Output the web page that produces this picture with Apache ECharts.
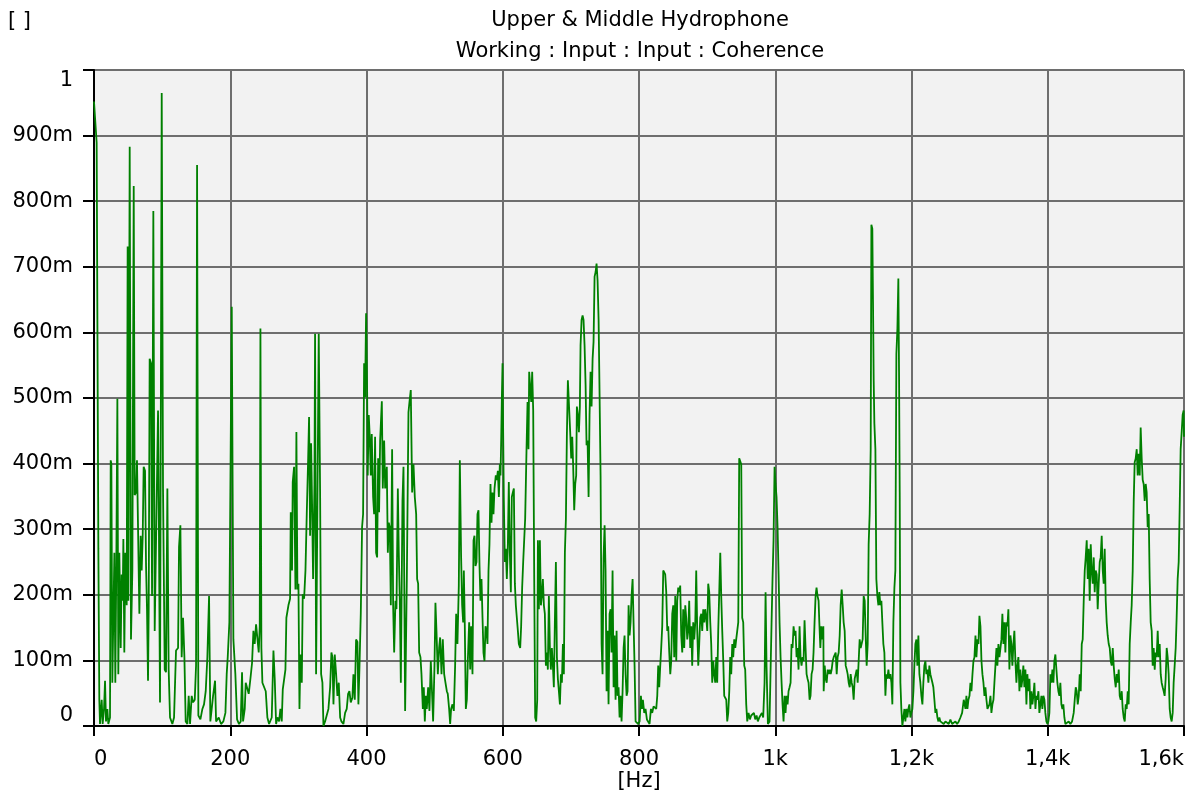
<!DOCTYPE html>
<html>
<head>
<meta charset="utf-8">
<title>Upper & Middle Hydrophone - Coherence</title>
<script src="https://cdn.jsdelivr.net/npm/echarts@6/dist/echarts.min.js"></script>
<style>
html,body{margin:0;padding:0;background:#fff;}
#chart{width:1196px;height:798px;}
</style>
</head>
<body>
<div id="chart"></div>
<script>
// ---- data: [frequency Hz, coherence] ----
const band0to260 = [[0,0.952],[3.9,0.889],[6.4,0.270],[7.8,0.040],[8.8,0.003],[11.3,0.040],[12.7,0.003],[14.7,0.026],[16.2,0.069],[17.6,0.007],[19.6,0.026],[21.0,0.003],[23.5,0.013],[24.5,0.405],[25.5,0.400],[26.9,0.066],[28.4,0.066],[29.9,0.264],[31.3,0.066],[32.8,0.250],[34.3,0.499],[35.7,0.079],[37.2,0.264],[39.2,0.119],[40.6,0.231],[42.1,0.191],[43.1,0.285],[44.5,0.112],[46.0,0.264],[47.0,0.231],[48.0,0.184],[49.4,0.731],[50.4,0.191],[52.4,0.883],[54.3,0.132],[56.3,0.237],[58.3,0.823],[59.7,0.352],[61.7,0.356],[63.1,0.405],[65.1,0.405],[66.6,0.171],[68.5,0.290],[70.0,0.237],[71.5,0.290],[72.9,0.395],[74.9,0.389],[76.4,0.244],[77.8,0.178],[79.3,0.069],[80.3,0.178],[81.7,0.560],[83.7,0.553],[85.2,0.198],[87.1,0.785],[89.1,0.145],[91.5,0.145],[94.0,0.481],[95.0,0.349],[96.9,0.036],[99.4,0.965],[101.3,0.362],[103.8,0.086],[105.7,0.082],[107.7,0.362],[109.6,0.086],[111.6,0.013],[115.0,0.003],[117.5,0.013],[120.4,0.115],[123.4,0.119],[124.8,0.273],[126.8,0.306],[128.7,0.105],[130.7,0.165],[132.7,0.105],[134.6,0.007],[137.1,0.003],[139.0,0.046],[141.0,0.003],[143.4,0.046],[145.4,0.036],[147.9,0.040],[149.8,0.092],[151.3,0.855],[153.2,0.016],[156.2,0.010],[159.1,0.026],[161.5,0.033],[164.0,0.053],[166.4,0.105],[168.9,0.198],[170.8,0.007],[172.8,0.026],[174.8,0.046],[177.7,0.069],[179.2,0.007],[183.1,0.013],[186.5,0.003],[189.9,0.007],[192.9,0.020],[194.8,0.079],[196.3,0.105],[198.7,0.158],[202.2,0.639],[204.6,0.132],[207.5,0.079],[210.0,0.010],[212.9,0.003],[215.4,0.007],[217.3,0.082],[218.8,0.007],[221.3,0.026],[222.7,0.066],[225.2,0.066],[227.1,0.049],[229.6,0.072],[232.0,0.096],[234.0,0.145],[235.9,0.125],[237.9,0.155],[240.8,0.158],[241.8,0.112],[243.3,0.152],[244.3,0.606],[245.7,0.119],[247.2,0.066],[249.6,0.066],[252.1,0.053],[254.5,0.013],[257.0,0.003]];

const band260to540 = [[260.9,0.013],[263.4,0.115],[265.3,0.072],[267.3,0.003],[269.2,0.013],[271.7,0.007],[273.6,0.026],[275.6,0.007],[277.1,0.056],[279.0,0.059],[281.0,0.086],[282.4,0.165],[285.4,0.184],[287.8,0.194],[288.8,0.326],[290.7,0.237],[291.7,0.372],[293.7,0.395],[295.7,0.208],[297.1,0.448],[298.6,0.208],[300.1,0.217],[301.6,0.026],[303.0,0.109],[305.0,0.066],[306.4,0.201],[308.4,0.194],[310.4,0.237],[312.3,0.323],[314.3,0.405],[315.7,0.471],[317.2,0.290],[318.7,0.431],[320.1,0.339],[321.6,0.224],[323.6,0.369],[324.5,0.598],[326.0,0.079],[328.0,0.079],[329.9,0.598],[331.9,0.356],[333.4,0.079],[335.3,0.066],[336.8,0.000],[339.2,0.007],[341.7,0.010],[344.1,0.026],[346.6,0.059],[348.5,0.112],[350.0,0.105],[351.5,0.033],[353.4,0.109],[355.4,0.079],[357.3,0.046],[359.3,0.066],[361.3,0.013],[363.2,0.007],[366.1,0.003],[368.6,0.020],[371.0,0.026],[373.0,0.049],[374.9,0.053],[376.9,0.036],[379.3,0.043],[380.8,0.079],[382.8,0.040],[384.7,0.132],[386.7,0.128],[388.1,0.033],[389.6,0.086],[391.6,0.171],[393.5,0.303],[395.0,0.323],[396.5,0.553],[397.9,0.501],[399.4,0.629],[400.9,0.514],[401.8,0.382],[403.3,0.474],[404.8,0.441],[406.3,0.382],[407.7,0.445],[409.7,0.349],[411.2,0.323],[412.6,0.441],[414.1,0.264],[415.6,0.257],[417.1,0.408],[418.5,0.326],[420.0,0.435],[422.5,0.495],[423.9,0.362],[425.9,0.435],[427.4,0.362],[429.8,0.395],[431.3,0.264],[432.7,0.310],[434.2,0.303],[435.7,0.184],[437.6,0.422],[439.1,0.184],[440.6,0.112],[442.5,0.191],[444.0,0.178],[446.0,0.362],[447.4,0.264],[448.9,0.191],[450.4,0.066],[452.8,0.343],[454.3,0.395],[456.7,0.023],[459.2,0.224],[461.6,0.478],[463.1,0.494],[465.0,0.512],[467.0,0.356],[469.0,0.399],[470.9,0.349],[472.9,0.323],[474.3,0.224],[475.8,0.217],[477.3,0.112],[479.2,0.105],[480.7,0.079],[482.7,0.026],[484.1,0.059],[485.6,0.007],[487.1,0.046],[488.5,0.026],[490.5,0.059],[492.4,0.023],[494.4,0.099],[496.4,0.102],[497.8,0.007],[499.8,0.092],[501.2,0.188],[502.7,0.145],[504.7,0.079],[506.6,0.119],[508.1,0.135],[510.1,0.079],[512.0,0.132],[514.0,0.079],[515.9,0.066],[517.9,0.053],[519.3,0.049],[521.3,0.026],[522.8,0.003],[524.2,0.026],[526.2,0.033],[528.2,0.023],[530.1,0.092],[531.6,0.171],[533.5,0.125],[535.5,0.214],[537.0,0.405]];

const band540to800 = [[538.9,0.257],[540.4,0.184],[541.9,0.158],[542.9,0.237],[544.3,0.152],[545.8,0.026],[547.3,0.040],[548.7,0.099],[550.7,0.158],[552.2,0.086],[553.6,0.152],[555.6,0.079],[557.1,0.283],[558.5,0.290],[560.0,0.244],[561.5,0.250],[562.9,0.323],[564.4,0.329],[565.9,0.244],[567.3,0.191],[568.8,0.224],[570.3,0.165],[571.7,0.112],[573.2,0.099],[574.7,0.152],[576.1,0.145],[577.6,0.125],[579.1,0.237],[580.5,0.277],[582.0,0.369],[583.5,0.310],[584.9,0.356],[586.4,0.323],[587.9,0.362],[589.8,0.382],[591.3,0.375],[592.8,0.389],[594.3,0.349],[595.7,0.399],[596.7,0.382],[597.7,0.435],[598.7,0.501],[599.7,0.553],[600.6,0.448],[601.6,0.343],[603.1,0.250],[604.5,0.270],[606.0,0.224],[607.5,0.277],[608.9,0.372],[610.4,0.264],[611.9,0.204],[613.3,0.349],[614.8,0.356],[616.3,0.362],[617.8,0.217],[619.2,0.184],[620.7,0.184],[622.2,0.145],[623.6,0.125],[625.6,0.119],[627.0,0.152],[628.5,0.211],[630.0,0.250],[631.5,0.250],[632.9,0.316],[634.9,0.422],[636.4,0.494],[637.8,0.422],[638.8,0.540],[640.3,0.540],[641.8,0.494],[643.2,0.540],[644.7,0.481],[646.2,0.224],[647.6,0.013],[649.1,0.007],[650.6,0.040],[651.6,0.283],[653.0,0.178],[654.5,0.283],[656.0,0.184],[657.4,0.198],[658.9,0.224],[660.4,0.184],[661.8,0.171],[663.3,0.092],[664.8,0.112],[666.2,0.086],[667.7,0.198],[669.2,0.119],[670.6,0.086],[672.1,0.119],[673.6,0.092],[675.0,0.059],[676.5,0.158],[678.0,0.250],[679.5,0.105],[680.9,0.072],[682.4,0.053],[683.9,0.033],[685.3,0.079],[686.8,0.066],[688.3,0.125],[689.7,0.079],[691.2,0.264],[692.7,0.316],[694.1,0.441],[695.6,0.527],[697.6,0.527],[699.0,0.448],[700.5,0.408],[702.0,0.441],[703.4,0.395],[704.9,0.329],[706.4,0.369],[707.8,0.382],[708.8,0.487],[710.3,0.474],[711.8,0.448],[713.2,0.487],[714.2,0.580],[715.7,0.619],[717.2,0.626],[718.6,0.619],[720.1,0.580],[721.6,0.520],[723.0,0.428],[724.5,0.435],[726.0,0.349],[727.4,0.474],[728.9,0.540],[730.4,0.487],[731.9,0.560],[733.3,0.586],[734.8,0.685],[736.3,0.692],[737.7,0.705],[739.2,0.679],[740.7,0.619],[742.1,0.507],[743.6,0.382],[745.1,0.125],[746.5,0.079],[748.0,0.257],[749.5,0.306],[750.9,0.237],[752.4,0.053],[753.9,0.145],[755.3,0.033],[756.8,0.171],[758.3,0.178],[759.7,0.112],[761.2,0.237],[762.7,0.059],[764.1,0.138],[765.6,0.040],[767.1,0.145],[768.5,0.046],[770.0,0.059],[771.5,0.013],[772.9,0.046],[774.4,0.007],[775.9,0.053],[777.4,0.119],[778.8,0.138],[780.3,0.079],[781.8,0.046],[783.2,0.053],[784.7,0.184],[786.2,0.138],[787.6,0.158],[789.1,0.198],[790.6,0.224],[792.0,0.158],[793.5,0.092],[795.0,0.007]];

const band800to1065 = [[797.0,0.010],[798.9,0.003],[800.9,0.007],[802.8,0.046],[804.3,0.026],[805.7,0.040],[807.7,0.020],[809.6,0.026],[811.6,0.010],[813.6,0.007],[815.5,0.003],[817.5,0.026],[819.4,0.020],[821.4,0.030],[823.3,0.033],[825.3,0.026],[826.8,0.046],[828.2,0.092],[829.7,0.059],[831.2,0.092],[832.6,0.119],[834.1,0.152],[835.6,0.237],[837.1,0.237],[838.5,0.231],[840.0,0.204],[841.5,0.145],[842.9,0.152],[844.4,0.112],[845.9,0.079],[847.3,0.099],[848.8,0.171],[850.3,0.184],[851.7,0.105],[853.2,0.198],[854.7,0.099],[856.1,0.191],[857.6,0.211],[859.1,0.204],[860.5,0.214],[862.0,0.138],[863.5,0.112],[864.9,0.178],[866.4,0.119],[867.9,0.184],[869.3,0.165],[870.8,0.132],[872.3,0.145],[873.7,0.191],[875.2,0.119],[876.7,0.152],[878.1,0.092],[879.6,0.158],[881.1,0.132],[882.6,0.158],[884.0,0.237],[885.5,0.145],[887.0,0.092],[888.4,0.125],[889.9,0.165],[891.4,0.171],[892.8,0.145],[894.3,0.178],[895.8,0.158],[897.2,0.178],[898.7,0.165],[900.2,0.145],[901.6,0.217],[903.1,0.204],[904.6,0.158],[906.0,0.125],[907.5,0.066],[909.0,0.099],[910.4,0.079],[911.9,0.066],[913.4,0.105],[914.8,0.066],[916.3,0.145],[917.8,0.204],[919.3,0.264],[920.7,0.198],[922.2,0.145],[923.7,0.099],[925.1,0.046],[926.6,0.046],[928.1,0.040],[929.5,0.007],[931.0,0.020],[932.5,0.053],[933.9,0.105],[935.4,0.079],[936.9,0.125],[938.3,0.105],[939.8,0.132],[941.3,0.119],[942.7,0.132],[944.2,0.145],[945.7,0.158],[947.1,0.408],[948.6,0.405],[950.1,0.399],[951.5,0.165],[953.0,0.158],[954.5,0.092],[955.9,0.086],[957.4,0.033],[958.9,0.007],[960.8,0.020],[962.8,0.010],[964.7,0.016],[966.7,0.013],[968.7,0.020],[970.6,0.010],[972.6,0.016],[974.5,0.007],[976.5,0.013],[978.4,0.010],[980.4,0.020],[982.3,0.013],[984.3,0.066],[985.8,0.204],[987.2,0.092],[989.2,0.003],[991.6,0.007],[993.1,0.007],[994.6,0.158],[996.0,0.224],[997.5,0.283],[999.0,0.395],[1000.4,0.369],[1001.9,0.349],[1003.4,0.303],[1004.9,0.231],[1006.3,0.158],[1007.8,0.105],[1009.3,0.066],[1010.7,0.033],[1012.2,0.007],[1013.7,0.046],[1015.1,0.020],[1016.6,0.046],[1018.1,0.033],[1019.5,0.053],[1021.0,0.059],[1022.5,0.066],[1023.9,0.125],[1025.4,0.119],[1026.9,0.152],[1028.3,0.138],[1029.8,0.145],[1031.3,0.105],[1032.7,0.119],[1034.2,0.086],[1035.7,0.152],[1037.1,0.105],[1038.6,0.092],[1040.1,0.105],[1041.6,0.099],[1043.0,0.161],[1044.5,0.119],[1046.0,0.079],[1047.4,0.072],[1048.9,0.066],[1050.4,0.040],[1051.8,0.046],[1053.3,0.079],[1054.8,0.086],[1056.2,0.112],[1057.7,0.158],[1059.2,0.198],[1060.6,0.211],[1062.1,0.198],[1063.6,0.191]];

const band1065to1330 = [[1064.7,0.158],[1066.2,0.119],[1067.6,0.152],[1069.1,0.132],[1070.6,0.152],[1071.1,0.053],[1072.6,0.092],[1074.0,0.072],[1075.5,0.066],[1077.0,0.086],[1078.4,0.079],[1079.9,0.086],[1081.4,0.079],[1082.8,0.086],[1084.3,0.099],[1085.8,0.105],[1087.2,0.105],[1088.7,0.112],[1090.2,0.079],[1091.6,0.105],[1093.1,0.112],[1094.6,0.138],[1096.0,0.184],[1097.5,0.208],[1099.0,0.184],[1100.4,0.158],[1101.9,0.145],[1103.4,0.092],[1104.9,0.086],[1106.3,0.079],[1107.8,0.066],[1109.3,0.059],[1110.7,0.079],[1112.2,0.066],[1113.7,0.059],[1115.1,0.040],[1116.6,0.072],[1118.1,0.079],[1119.5,0.086],[1121.0,0.066],[1122.5,0.066],[1123.9,0.132],[1125.4,0.119],[1126.9,0.119],[1128.3,0.132],[1129.8,0.198],[1131.3,0.191],[1132.7,0.138],[1134.2,0.092],[1135.7,0.125],[1137.1,0.277],[1138.6,0.323],[1140.1,0.422],[1141.1,0.764],[1142.5,0.758],[1143.5,0.646],[1144.5,0.527],[1145.5,0.461],[1147.0,0.422],[1148.4,0.224],[1149.9,0.198],[1151.4,0.184],[1152.8,0.204],[1154.3,0.184],[1155.8,0.191],[1157.2,0.158],[1158.7,0.125],[1160.2,0.112],[1161.7,0.046],[1163.1,0.079],[1164.6,0.072],[1166.1,0.086],[1167.5,0.072],[1169.0,0.079],[1170.5,0.066],[1171.9,0.033],[1173.4,0.158],[1174.9,0.211],[1176.3,0.237],[1177.8,0.567],[1179.3,0.606],[1180.7,0.682],[1181.7,0.540],[1182.7,0.356],[1183.7,0.066],[1185.1,0.026],[1186.6,0.000],[1188.1,0.013],[1189.6,0.026],[1191.0,0.007],[1192.5,0.026],[1194.0,0.013],[1195.4,0.026],[1196.9,0.033],[1198.4,0.013],[1199.8,0.020],[1201.3,0.026],[1202.8,0.053],[1204.2,0.092],[1205.7,0.125],[1207.2,0.132],[1208.6,0.092],[1210.1,0.138],[1211.6,0.079],[1213.0,0.066],[1214.5,0.046],[1216.0,0.033],[1217.4,0.066],[1218.9,0.092],[1220.4,0.099],[1221.8,0.079],[1223.3,0.086],[1224.8,0.066],[1226.2,0.092],[1227.7,0.079],[1229.2,0.079],[1230.7,0.066],[1232.1,0.059],[1233.6,0.040],[1235.1,0.020],[1236.5,0.026],[1238.0,0.013],[1239.5,0.007],[1240.9,0.013],[1242.4,0.007],[1244.9,0.010],[1247.3,0.003],[1249.8,0.007],[1252.2,0.010],[1254.7,0.003],[1257.1,0.010],[1259.6,0.003],[1262.0,0.003],[1264.5,0.007],[1266.9,0.003],[1269.4,0.007],[1271.8,0.013],[1274.3,0.020],[1276.7,0.040],[1279.2,0.026],[1280.6,0.046],[1282.1,0.026],[1283.6,0.040],[1285.1,0.046],[1286.5,0.066],[1288.0,0.053],[1289.5,0.079],[1290.9,0.099],[1292.4,0.105],[1293.9,0.138],[1295.3,0.105],[1296.8,0.132],[1298.3,0.125],[1299.7,0.168],[1301.2,0.152],[1302.7,0.099],[1304.1,0.079],[1305.6,0.066],[1307.1,0.046],[1308.5,0.059],[1310.0,0.040],[1311.5,0.026],[1312.9,0.026],[1314.4,0.033],[1315.9,0.046],[1317.3,0.020],[1318.8,0.033],[1320.3,0.040],[1321.7,0.066],[1323.2,0.092],[1324.7,0.119],[1326.1,0.092],[1327.6,0.125],[1329.1,0.105]];

const band1330to1600 = [[1330.5,0.105],[1332.0,0.132],[1333.4,0.171],[1334.9,0.125],[1336.4,0.158],[1337.8,0.112],[1339.3,0.158],[1340.8,0.152],[1342.2,0.178],[1343.7,0.086],[1345.2,0.138],[1346.6,0.125],[1348.1,0.092],[1349.6,0.125],[1351.0,0.145],[1352.5,0.099],[1354.0,0.066],[1355.4,0.092],[1356.9,0.105],[1358.4,0.053],[1359.8,0.086],[1361.3,0.059],[1362.8,0.072],[1364.2,0.092],[1365.7,0.059],[1367.2,0.086],[1368.7,0.033],[1370.1,0.079],[1371.6,0.053],[1373.1,0.072],[1374.5,0.026],[1376.0,0.053],[1377.5,0.033],[1378.9,0.046],[1380.4,0.066],[1381.9,0.026],[1383.3,0.046],[1384.8,0.040],[1386.3,0.053],[1387.7,0.020],[1389.2,0.033],[1390.7,0.046],[1392.1,0.026],[1393.6,0.046],[1395.1,0.040],[1396.5,0.020],[1398.0,0.007],[1399.5,0.003],[1400.9,0.007],[1402.4,0.020],[1403.9,0.079],[1405.3,0.066],[1406.8,0.086],[1408.3,0.066],[1409.7,0.099],[1411.2,0.109],[1412.7,0.086],[1414.1,0.066],[1415.6,0.053],[1417.1,0.046],[1418.5,0.066],[1420.0,0.033],[1421.5,0.026],[1422.9,0.033],[1424.4,0.013],[1425.9,0.003],[1428.3,0.003],[1430.8,0.007],[1433.2,0.003],[1435.7,0.007],[1438.1,0.020],[1439.6,0.040],[1441.1,0.059],[1442.5,0.053],[1444.0,0.033],[1445.5,0.046],[1446.9,0.079],[1448.4,0.053],[1449.9,0.125],[1451.3,0.132],[1452.8,0.191],[1454.3,0.237],[1455.7,0.257],[1457.2,0.283],[1458.7,0.224],[1460.1,0.270],[1461.6,0.191],[1463.1,0.277],[1464.5,0.237],[1466.0,0.217],[1467.5,0.257],[1468.9,0.204],[1470.4,0.237],[1471.9,0.231],[1473.3,0.178],[1474.8,0.217],[1476.3,0.250],[1477.7,0.257],[1479.2,0.290],[1480.7,0.237],[1482.1,0.217],[1483.6,0.270],[1485.1,0.191],[1486.5,0.158],[1488.0,0.138],[1489.5,0.125],[1491.0,0.119],[1492.4,0.099],[1493.9,0.092],[1495.4,0.119],[1496.8,0.092],[1498.3,0.072],[1499.8,0.059],[1501.2,0.079],[1502.7,0.066],[1504.2,0.086],[1505.6,0.046],[1507.1,0.040],[1508.6,0.053],[1510.0,0.026],[1511.5,0.013],[1513.0,0.007],[1514.4,0.033],[1515.9,0.026],[1517.4,0.053],[1518.8,0.033],[1520.3,0.125],[1521.8,0.158],[1523.2,0.184],[1524.7,0.237],[1526.2,0.343],[1527.6,0.402],[1529.1,0.408],[1530.6,0.422],[1532.0,0.382],[1533.5,0.415],[1535.0,0.382],[1536.4,0.455],[1537.9,0.408],[1539.4,0.375],[1540.8,0.369],[1542.3,0.343],[1543.8,0.369],[1545.2,0.356],[1546.7,0.303],[1548.2,0.323],[1549.6,0.224],[1551.1,0.158],[1552.6,0.145],[1554.0,0.092],[1555.5,0.119],[1557.0,0.086],[1558.4,0.112],[1559.9,0.105],[1561.4,0.145],[1562.8,0.105],[1564.3,0.125],[1565.8,0.079],[1567.2,0.066],[1568.7,0.059],[1570.2,0.053],[1571.6,0.046],[1573.1,0.072],[1574.6,0.119],[1576.0,0.105],[1577.5,0.079],[1579.0,0.026],[1580.4,0.013],[1581.9,0.007],[1583.4,0.020],[1584.8,0.066],[1586.3,0.092],[1587.8,0.119],[1589.2,0.165],[1590.7,0.224],[1592.2,0.250],[1593.6,0.329],[1595.1,0.422],[1596.6,0.448],[1598.0,0.474],[1599.5,0.481],[1600,0.441]];

const xTickLabels = ['0','200','400','600','800','1k','1,2k','1,4k','1,6k'];
const yTickLabels = ['0','100m','200m','300m','400m','500m','600m','700m','800m','900m','1'];
const titleLines = ['Upper & Middle Hydrophone','Working : Input : Input : Coherence'];

const coherence = [].concat(band0to260, band260to540, band540to800, band800to1065, band1065to1330, band1330to1600);

const FONT = '"DejaVu Sans", "Liberation Sans", sans-serif';
const chart = echarts.init(document.getElementById('chart'), null, {renderer:'canvas'});
chart.setOption({
  animation:false,
  backgroundColor:'#ffffff',
  grid:{left:94, right:12, top:70, bottom:72, show:true, backgroundColor:'#f2f2f2', borderWidth:0},
  xAxis:{
    type:'value', min:0, max:1600, interval:200,
    axisLine:{show:true, onZero:false, lineStyle:{color:'#000', width:2}},
    axisTick:{show:true, length:10, lineStyle:{color:'#000', width:2}},
    splitLine:{show:true, lineStyle:{color:'#6e6e6e', width:2}},
    axisLabel:{
      margin:23, color:'#000', fontSize:21, fontFamily:FONT,
      alignMinLabel:'left', alignMaxLabel:'right',
      formatter:function(v){ return xTickLabels[Math.round(v/200)]; }
    }
  },
  yAxis:{
    type:'value', min:0, max:1, interval:0.1,
    axisLine:{show:true, lineStyle:{color:'#000', width:2}},
    axisTick:{show:true, length:11, lineStyle:{color:'#000', width:2}},
    splitLine:{show:true, lineStyle:{color:'#6e6e6e', width:2}},
    axisLabel:{
      margin:21, color:'#000', fontSize:21, fontFamily:FONT,
      verticalAlignMinLabel:'bottom', verticalAlignMaxLabel:'top',
      formatter:function(v){ return yTickLabels[Math.round(v*10)]; }
    }
  },
  graphic:[
    {type:'text', left:8, top:11, style:{text:'[ ]', fontSize:21, fontFamily:FONT, fill:'#000'}},
    {type:'text', x:640, y:21, style:{text:titleLines[0], fontSize:21, fontFamily:FONT, fill:'#000', align:'center', verticalAlign:'middle'}},
    {type:'text', x:640, y:52, style:{text:titleLines[1], fontSize:21, fontFamily:FONT, fill:'#000', align:'center', verticalAlign:'middle'}},
    {type:'text', x:639, y:782, style:{text:'[Hz]', fontSize:21, fontFamily:FONT, fill:'#000', align:'center', verticalAlign:'middle'}}
  ],
  series:[{
    type:'line', data:coherence, showSymbol:false, symbol:'none',
    lineStyle:{color:'#008000', width:1.8}, clip:true
  }]
});
</script>
</body>
</html>
